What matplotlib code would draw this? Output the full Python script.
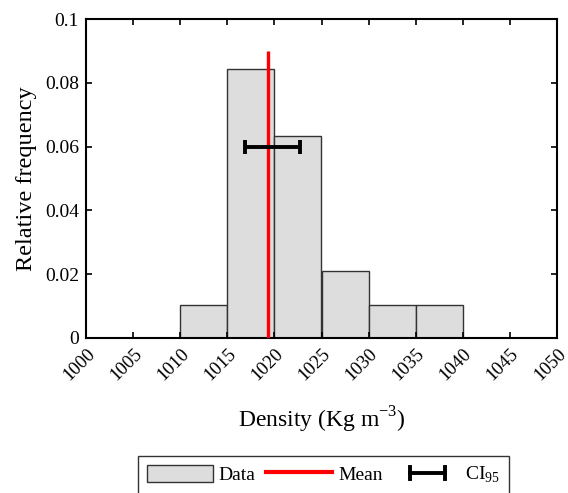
import numpy as np
import matplotlib.pyplot as plt
import matplotlib.transforms as mtransforms
from matplotlib.patches import Patch
from matplotlib.lines import Line2D
from matplotlib.legend_handler import HandlerBase

plt.rcParams['font.family'] = ['Liberation Serif', 'DejaVu Serif']
plt.rcParams['mathtext.fontset'] = 'custom'
plt.rcParams['mathtext.rm'] = 'Liberation Serif'

# --- data ---
bin_left = [1010, 1015, 1020, 1025, 1030, 1035]
bin_width = 5
rel_freq = [0.0105, 0.0842, 0.0632, 0.0211, 0.0105, 0.0105]
mean_density = 1019.3
mean_line_top = 0.09
ci_low, ci_high = 1016.9, 1022.7
ci_y = 0.06
x_ticks = list(range(1000, 1051, 5))
y_ticks = [0, 0.02, 0.04, 0.06, 0.08, 0.1]
y_tick_labels = ['0', '0.02', '0.04', '0.06', '0.08', '0.1']


class CIHandler(HandlerBase):
    # short horizontal bar with end caps, like the reference legend
    def create_artists(self, legend, orig_handle, xdescent, ydescent,
                       width, height, fontsize, trans):
        x0 = -xdescent + 0.25 * width
        x1 = -xdescent + 0.78 * width
        yc = -ydescent + height / 2
        h = 0.35 * height
        bar = Line2D([x0, x1], [yc, yc], color='black', linewidth=2.8)
        c0 = Line2D([x0, x0], [yc - h, yc + h], color='black', linewidth=2.8)
        c1 = Line2D([x1, x1], [yc - h, yc + h], color='black', linewidth=2.8)
        for a in (bar, c0, c1):
            a.set_transform(trans)
        return [bar, c0, c1]


fig = plt.figure(figsize=(5.68, 4.93), dpi=100)
ax = fig.add_axes([86 / 568, 1 - 338 / 493, 471 / 568, 319 / 493])

ax.bar(bin_left, rel_freq, width=bin_width, align='edge',
       color='#dddddd', edgecolor='#333333', linewidth=1.0)
ax.vlines(mean_density, 0, mean_line_top, color='red', linewidth=2.4, zorder=3)
ci_mid = (ci_low + ci_high) / 2
ax.errorbar([ci_mid], [ci_y], xerr=[[ci_mid - ci_low], [ci_high - ci_mid]],
            fmt='none', ecolor='black', elinewidth=2.8, capsize=5, capthick=2.8, zorder=4)

ax.set_xlim(1000, 1050)
ax.set_ylim(0, 0.1)
ax.set_xticks(x_ticks)
ax.set_xticklabels([str(t) for t in x_ticks], rotation=45, ha='center', va='top',
                   fontsize=13.5)
ax.set_yticks(y_ticks)
ax.set_yticklabels(y_tick_labels, fontsize=14)
ax.tick_params(direction='in', top=True, right=True, length=4, width=1.2)
ax.tick_params(axis='y', pad=5)
ax.tick_params(axis='x', pad=5)
for sp in ax.spines.values():
    sp.set_linewidth(1.5)

# shift the rotated tick labels a little to the left, as in the reference
shift = mtransforms.ScaledTranslation(-7 / 100, 0, fig.dpi_scale_trans)
for lab in ax.get_xticklabels():
    lab.set_transform(lab.get_transform() + shift)

ax.set_ylabel('Relative frequency', fontsize=17.5, labelpad=6)
ax.set_xlabel('Density (Kg m$^{\\mathregular{-3}}$)', fontsize=17, labelpad=15)

handles = [
    Patch(facecolor='#dddddd', edgecolor='#333333', linewidth=1.0),
    Line2D([], [], color='red', linewidth=3.0),
    object(),
]
labels = ['Data', 'Mean', 'CI$_{95}$']
leg = fig.legend(handles, labels, ncol=3, loc='upper left',
                 bbox_to_anchor=(138 / 568, 1 - 456 / 493), fontsize=14,
                 frameon=True, fancybox=False, edgecolor='black',
                 handlelength=3.4, handleheight=0.95, handletextpad=0.3,
                 columnspacing=0.55, borderpad=0.45, borderaxespad=0,
                 handler_map={object: CIHandler()})
leg.get_frame().set_linewidth(1.0)

fig.savefig('out.png', dpi=100)
